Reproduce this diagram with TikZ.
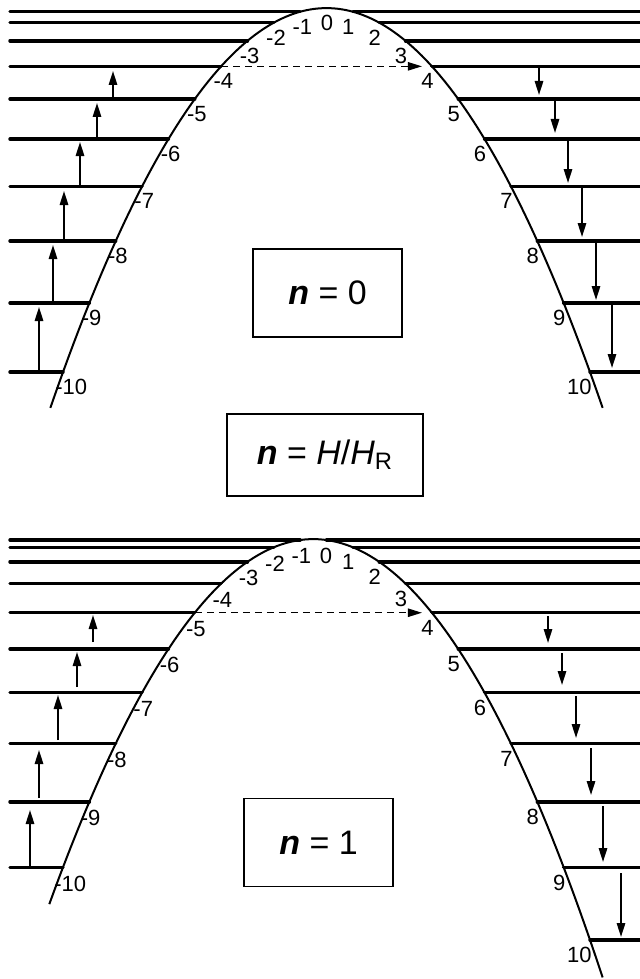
\documentclass[tikz,border=0pt]{standalone}
\usepackage{fontspec}
\setmainfont{Liberation Sans}
\usetikzlibrary{arrows.meta}

\begin{document}
\begin{tikzpicture}[x=0.5pt, y=-0.5pt,
    level/.style={line width=1.7pt, line cap=round},
    curve/.style={line width=1pt},
    arrow/.style={-{Triangle[length=7pt, width=4.2pt]}, line width=0.9pt},
    jump/.style={arrow, line width=0.6pt, dash pattern=on 3.5pt off 2.5pt},
    num/.style={inner sep=0pt, font=\fontsize{11}{13}\selectfont},
    box/.style={draw, line width=0.9pt, minimum width=74.5pt, minimum height=44pt, font=\fontsize{17}{20}\selectfont}]

    \useasboundingbox (0,0) rectangle (640,979);
    \coordinate (L) at (10,0);
    \coordinate (R) at (640,0);

    % upper panel, n = 0
    \draw[curve] plot[domain=-10.48:10.48, samples=120] ({326.5+26.35*\x}, {8.1+3.64*(\x)*(\x)});
    \foreach \m in {-10,...,-1} {
        \coordinate (a\m) at ({326.5+26.35*\m}, {8.1+3.64*(\m)*(\m)});
        \draw[level] (a\m -| L) -- (a\m);
        \node[num, anchor=north west] (la\m) at ([shift={(-8,7)}]a\m) {\m};
    }
    \foreach \m in {1,...,10} {
        \coordinate (b\m) at ({326.5+26.35*\m}, {8.1+3.64*(\m)*(\m)});
        \draw[level] (b\m) -- (b\m -| R);
        \node[num, anchor=north east] (lb\m) at ([shift={(2,7)}]b\m) {\m};
    }
    \node[num, anchor=north] (lb0) at (327,15) {0};

    \foreach \x/\ya/\yb in {113/98.7/71, 97/138.3/103, 80/186/142, 64/240.7/191, 53/302.7/245, 39/372/307}
        \draw[arrow] (\x,\ya) -- (\x,\yb);
    \foreach \x/\ya/\yb in {539/65.7/95, 555/98.7/133, 568/138.3/183, 582/186/237, 596/240.7/300, 612/302.7/368}
        \draw[arrow] (\x,\ya) -- (\x,\yb);
    \draw[jump] (a-4) -- ([shift={(-10,0)}]b4);

    \node[box] (nzero) at (327.5,293) {\textbf{\textit{n}} = 0};

    \node[box, minimum width=98pt, minimum height=41pt] (nratio) at (325,455)
        {\textbf{\textit{n}} = \textit{H}/\textit{H}\textsubscript{R}};

    % lower panel, n = 1
    \draw[curve] plot[domain=-10.52:10.48, samples=120] ({326.5+26.35*\x}, {539.1+3.636*(\x+0.5)*(\x+0.5)});
    \foreach \m in {-10,...,-1} {
        \coordinate (c\m) at ({326.5+26.35*\m}, {539.1+3.636*(\m+0.5)*(\m+0.5)});
        \draw[level] (c\m -| L) -- (c\m);
        \node[num, anchor=north west] (lc\m) at ([shift={(-9,8)}]c\m) {\m};
    }
    \foreach \m in {1,...,10} {
        \coordinate (d\m) at ({326.5+26.35*\m}, {539.1+3.636*(\m+0.5)*(\m+0.5)});
        \draw[level] (d\m) -- (d\m -| R);
        \node[num, anchor=north east] (ld\m) at ([shift={(2,7)}]d\m) {\m};
    }
    \coordinate (d0) at (326.5,540);
    \draw[level] (d0) -- (d0 -| R);
    \node[num, anchor=north] (ld0) at (326,548) {0};

    \foreach \x/\ya/\yb in {93/642/615, 77/687/652, 58/740/695, 39/798/750, 30/867/810}
        \draw[arrow] (\x,\ya) -- (\x,\yb);
    \foreach \x/\ya/\yb in {548/616/643, 562/653/685, 576/696/738, 591/748/795, 603/806/862, 621/873/937}
        \draw[arrow] (\x,\ya) -- (\x,\yb);
    \draw[jump] (c-5) -- ([shift={(-10,0)}]d4);

    \node[box] (none) at (318.5,842.5) {\textbf{\textit{n}} = 1};
\end{tikzpicture}
\end{document}
